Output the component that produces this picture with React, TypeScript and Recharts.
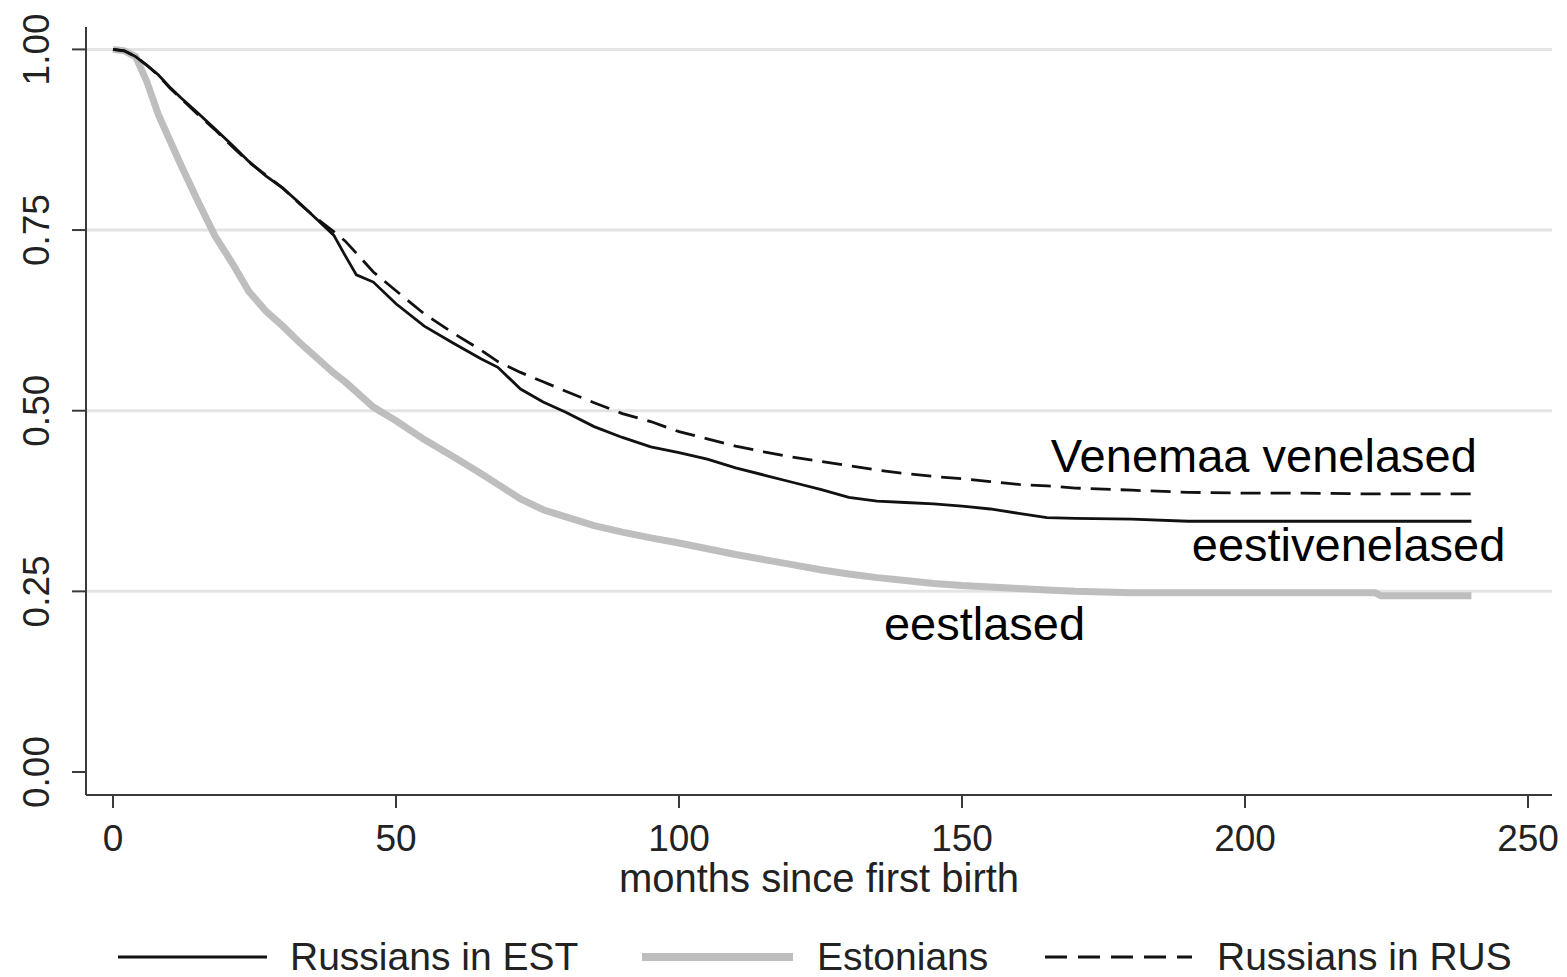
import React from 'react';
import {
  LineChart,
  Line,
  XAxis,
  YAxis,
  CartesianGrid,
  ReferenceDot,
  Label,
} from 'recharts';

const months = [
  0, 2, 4, 6, 8, 10, 12, 15, 18, 21, 24, 27, 30, 33, 36, 39, 41, 43, 46, 50, 55, 60, 65, 68, 72, 76,
  80, 85, 90, 95, 100, 105, 110, 115, 120, 125, 130, 135, 140, 145, 150, 155, 160, 165, 170, 180,
  190, 200, 210, 220, 223, 224, 230, 240,
];

const russiansInEst = [
  1.0, 0.998, 0.99, 0.978, 0.965, 0.948, 0.933, 0.912, 0.89, 0.868, 0.845, 0.825, 0.808, 0.787,
  0.765, 0.743, 0.715, 0.688, 0.678, 0.648, 0.617, 0.594, 0.572, 0.56, 0.53, 0.512, 0.498, 0.478,
  0.463, 0.45, 0.442, 0.433, 0.421, 0.411, 0.401, 0.391, 0.38, 0.375, 0.373, 0.371, 0.368, 0.364,
  0.358, 0.352, 0.351, 0.35, 0.347, 0.347, 0.347, 0.347, 0.347, 0.347, 0.347, 0.347,
];

const estonians = [
  1.0, 0.998, 0.99, 0.955, 0.91, 0.875, 0.84, 0.79, 0.742, 0.705, 0.665, 0.638, 0.617, 0.594,
  0.573, 0.552, 0.54, 0.526, 0.505, 0.486, 0.46, 0.437, 0.413, 0.398, 0.378, 0.363, 0.353, 0.341,
  0.332, 0.324, 0.317, 0.309, 0.301, 0.294, 0.287, 0.28, 0.274, 0.269, 0.265, 0.261, 0.258, 0.256,
  0.254, 0.252, 0.25, 0.248, 0.248, 0.248, 0.248, 0.248, 0.248, 0.244, 0.244, 0.244,
];

const russiansInRus = [
  1.0, 0.998, 0.99, 0.978, 0.964, 0.947, 0.932, 0.91, 0.889, 0.866, 0.844, 0.826, 0.808, 0.786,
  0.766, 0.748, 0.735, 0.718, 0.692, 0.666, 0.634, 0.608, 0.584, 0.568, 0.553, 0.54, 0.527, 0.511,
  0.496, 0.485, 0.471, 0.461, 0.451, 0.443, 0.436, 0.43, 0.424, 0.418, 0.413, 0.409, 0.406, 0.402,
  0.398, 0.396, 0.393, 0.39, 0.387, 0.386, 0.386, 0.385, 0.385, 0.385, 0.385, 0.385,
];

const xTicks = [0, 50, 100, 150, 200, 250];
const yTicks = [0, 0.25, 0.5, 0.75, 1];
const gridValues = [0.25, 0.5, 0.75, 1];

const annotations = [
  { text: 'Venemaa venelased', month: 165.7, value: 0.415 },
  { text: 'eestivenelased', month: 190.6, value: 0.292 },
  { text: 'eestlased', month: 136.2, value: 0.183 },
];

const legendItems = ['Russians in EST', 'Estonians', 'Russians in RUS'];

const data = months.map((m, i) => ({
  month: m,
  est: russiansInEst[i],
  eston: estonians[i],
  rus: russiansInRus[i],
}));

const FONT = 'Arial, "Liberation Sans", sans-serif';
const AXIS = '#3a3a3a';
const TEXT = '#222';

const XTick = (props: any) => (
  <text x={props.x} y={props.y + 41} textAnchor="middle" fontSize={37} fontFamily={FONT} fill={TEXT}>
    {props.payload.value}
  </text>
);

const YTick = (props: any) => {
  const bx = props.x - 21;
  return (
    <text
      x={bx}
      y={props.y}
      transform={`rotate(-90 ${bx} ${props.y})`}
      textAnchor="middle"
      fontSize={37}
      fontFamily={FONT}
      fill={TEXT}
    >
      {Number(props.payload.value).toFixed(2)}
    </text>
  );
};

function LegendRow() {
  const y = 32;
  return (
    <svg width={1567} height={52} style={{ position: 'absolute', left: 0, top: 925 }}>
      <line x1={118} x2={267} y1={y} y2={y} stroke="#111" strokeWidth={3} />
      <text x={290} y={y + 13} fontSize={39} fontFamily={FONT} fill={TEXT}>{legendItems[0]}</text>
      <line x1={642} x2={793} y1={y} y2={y} stroke="#bebebe" strokeWidth={8} />
      <text x={817} y={y + 13} fontSize={39} fontFamily={FONT} fill={TEXT}>{legendItems[1]}</text>
      <line x1={1045} x2={1192} y1={y} y2={y} stroke="#111" strokeWidth={3} strokeDasharray="22 11" />
      <text x={1217} y={y + 13} fontSize={39} fontFamily={FONT} fill={TEXT}>{legendItems[2]}</text>
    </svg>
  );
}

export default function App() {
  return (
    <div style={{ position: 'absolute', left: 0, top: 0, width: 1567, height: 977, background: '#fff' }}>
      <LineChart width={1567} height={977} data={data} margin={{ top: 27, right: 15, bottom: 0, left: 0 }}>
        <CartesianGrid
          vertical={false}
          horizontalValues={gridValues}
          stroke="#e4e4e4"
          strokeWidth={3}
        />
        <XAxis
          type="number"
          dataKey="month"
          domain={[-4.77, 254.24]}
          ticks={xTicks}
          allowDataOverflow
          height={182}
          tickSize={13}
          axisLine={{ stroke: AXIS, strokeWidth: 2 }}
          tickLine={{ stroke: AXIS, strokeWidth: 2 }}
          tick={<XTick />}
        >
          <Label
            content={(p: any) => (
              <text
                x={p.viewBox.x + p.viewBox.width / 2}
                y={p.viewBox.y + 97}
                textAnchor="middle"
                fontSize={40}
                fontFamily={FONT}
                fill={TEXT}
              >
                months since first birth
              </text>
            )}
          />
        </XAxis>
        <YAxis
          type="number"
          domain={[-0.0318, 1.031]}
          ticks={yTicks}
          allowDataOverflow
          width={86}
          tickSize={14}
          axisLine={{ stroke: AXIS, strokeWidth: 2 }}
          tickLine={{ stroke: AXIS, strokeWidth: 2 }}
          tick={<YTick />}
        />
        <Line
          dataKey="eston"
          type="linear"
          stroke="#bebebe"
          strokeWidth={7}
          dot={false}
          isAnimationActive={false}
        />
        <Line
          dataKey="est"
          type="linear"
          stroke="#111"
          strokeWidth={2.8}
          dot={false}
          isAnimationActive={false}
        />
        <Line
          dataKey="rus"
          type="linear"
          stroke="#111"
          strokeWidth={2.8}
          strokeDasharray="20 10"
          dot={false}
          isAnimationActive={false}
        />
        {annotations.map((a) => (
          <ReferenceDot
            key={a.text}
            x={a.month}
            y={a.value}
            r={0}
            ifOverflow="visible"
            shape={(p: any) => (
              <text x={p.cx} y={p.cy} fontSize={47} fontFamily={FONT} fill="#000">
                {a.text}
              </text>
            )}
          />
        ))}
      </LineChart>
      <LegendRow />
    </div>
  );
}
